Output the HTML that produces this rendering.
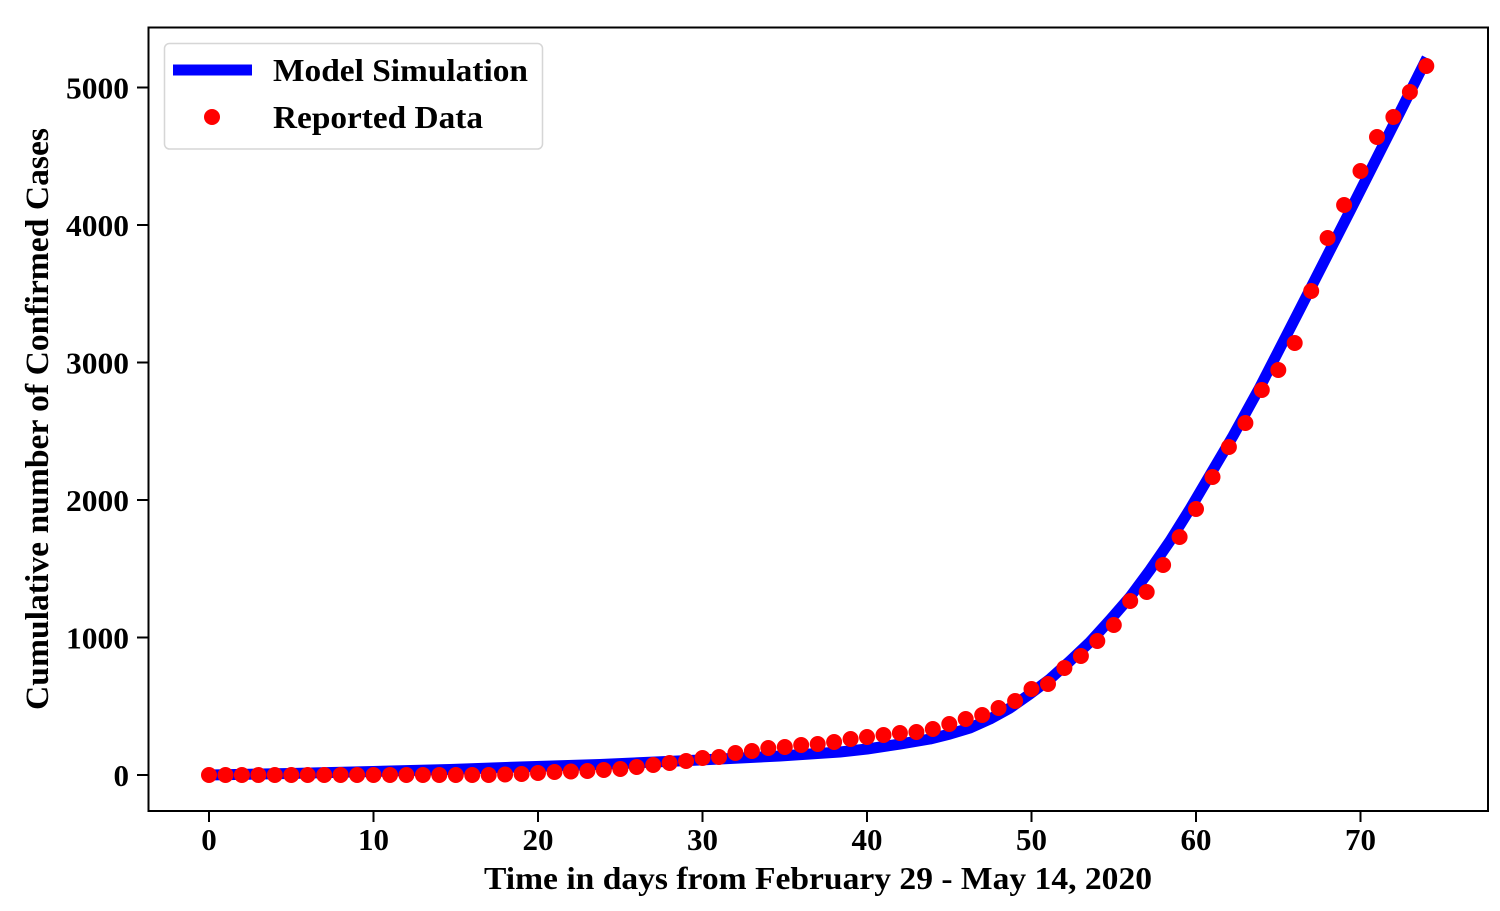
<!DOCTYPE html>
<html>
<head>
<meta charset="utf-8">
<style>
  html, body { margin:0; padding:0; background:#ffffff; }
  svg { display:block; }
  text { font-family: "Liberation Serif", "Times New Roman", serif; fill:#000; }
</style>
</head>
<body>
<svg width="1500" height="911" viewBox="0 0 1500 911" xmlns="http://www.w3.org/2000/svg">
  <rect x="0" y="0" width="1500" height="911" fill="#ffffff"/>

  <polyline fill="none" stroke="#0000ff" stroke-width="11" stroke-linejoin="round"
    points="209,775 290,773.5 373,771.5 450,769.5 520,767 600,764.5 700,760 780,756 840,752 867,749 900,744 930,739 950,734 970,728 990,719 1010,708 1030,694 1050,679 1070,661 1090,642 1110,620 1130,597 1150,570 1170,541 1190,509 1210,475 1233,436 1260,387 1300,309 1350,211 1400,112 1427,58"/>

  <g fill="#ff0000">
    <circle cx="209.0" cy="775" r="8"/>
    <circle cx="225.5" cy="775" r="8"/>
    <circle cx="241.9" cy="775" r="8"/>
    <circle cx="258.4" cy="775" r="8"/>
    <circle cx="274.8" cy="775" r="8"/>
    <circle cx="291.3" cy="775" r="8"/>
    <circle cx="307.7" cy="775" r="8"/>
    <circle cx="324.2" cy="775" r="8"/>
    <circle cx="340.6" cy="775" r="8"/>
    <circle cx="357.1" cy="775" r="8"/>
    <circle cx="373.5" cy="775" r="8"/>
    <circle cx="390.0" cy="775" r="8"/>
    <circle cx="406.4" cy="775" r="8"/>
    <circle cx="422.9" cy="775" r="8"/>
    <circle cx="439.3" cy="775" r="8"/>
    <circle cx="455.8" cy="775" r="8"/>
    <circle cx="472.2" cy="775" r="8"/>
    <circle cx="488.7" cy="775" r="8"/>
    <circle cx="505.1" cy="774.5" r="8"/>
    <circle cx="521.6" cy="774" r="8"/>
    <circle cx="538.0" cy="773" r="8"/>
    <circle cx="554.5" cy="772" r="8"/>
    <circle cx="570.9" cy="771.5" r="8"/>
    <circle cx="587.4" cy="771" r="8"/>
    <circle cx="603.8" cy="770" r="8"/>
    <circle cx="620.3" cy="769" r="8"/>
    <circle cx="636.7" cy="767" r="8"/>
    <circle cx="653.2" cy="765" r="8"/>
    <circle cx="669.6" cy="763" r="8"/>
    <circle cx="686.1" cy="761" r="8"/>
    <circle cx="702.5" cy="758" r="8"/>
    <circle cx="719.0" cy="757" r="8"/>
    <circle cx="735.4" cy="753" r="8"/>
    <circle cx="751.9" cy="751" r="8"/>
    <circle cx="768.3" cy="748" r="8"/>
    <circle cx="784.8" cy="747" r="8"/>
    <circle cx="801.2" cy="745" r="8"/>
    <circle cx="817.7" cy="744" r="8"/>
    <circle cx="834.1" cy="742" r="8"/>
    <circle cx="850.6" cy="739" r="8"/>
    <circle cx="867.0" cy="737" r="8"/>
    <circle cx="883.5" cy="735" r="8"/>
    <circle cx="899.9" cy="733" r="8"/>
    <circle cx="916.4" cy="732" r="8"/>
    <circle cx="932.8" cy="729" r="8"/>
    <circle cx="949.3" cy="724" r="8"/>
    <circle cx="965.7" cy="719" r="8"/>
    <circle cx="982.2" cy="715" r="8"/>
    <circle cx="998.6" cy="708" r="8"/>
    <circle cx="1015.1" cy="701" r="8"/>
    <circle cx="1031.5" cy="689" r="8"/>
    <circle cx="1048.0" cy="684" r="8"/>
    <circle cx="1064.4" cy="668" r="8"/>
    <circle cx="1080.9" cy="656" r="8"/>
    <circle cx="1097.3" cy="641" r="8"/>
    <circle cx="1113.8" cy="625" r="8"/>
    <circle cx="1130.2" cy="601" r="8"/>
    <circle cx="1146.7" cy="592" r="8"/>
    <circle cx="1163.1" cy="565" r="8"/>
    <circle cx="1179.6" cy="537" r="8"/>
    <circle cx="1196.0" cy="509" r="8"/>
    <circle cx="1212.5" cy="477" r="8"/>
    <circle cx="1228.9" cy="447" r="8"/>
    <circle cx="1245.4" cy="423" r="8"/>
    <circle cx="1261.8" cy="390" r="8"/>
    <circle cx="1278.3" cy="370" r="8"/>
    <circle cx="1294.7" cy="343" r="8"/>
    <circle cx="1311.2" cy="291" r="8"/>
    <circle cx="1327.6" cy="238" r="8"/>
    <circle cx="1344.1" cy="205" r="8"/>
    <circle cx="1360.5" cy="171" r="8"/>
    <circle cx="1377.0" cy="137" r="8"/>
    <circle cx="1393.4" cy="117" r="8"/>
    <circle cx="1409.9" cy="92" r="8"/>
    <circle cx="1426.3" cy="66" r="8"/>
  </g>

  <rect x="148.5" y="27.5" width="1339.5" height="783.5" fill="none" stroke="#000" stroke-width="2"/>

  <g stroke="#000" stroke-width="2">
    <line x1="137" y1="775" x2="148" y2="775"/>
    <line x1="137" y1="637.5" x2="148" y2="637.5"/>
    <line x1="137" y1="500" x2="148" y2="500"/>
    <line x1="137" y1="362.5" x2="148" y2="362.5"/>
    <line x1="137" y1="225" x2="148" y2="225"/>
    <line x1="137" y1="87.5" x2="148" y2="87.5"/>
  </g>
  <g font-size="31" font-weight="bold" text-anchor="end">
    <text x="129" y="786">0</text>
    <text x="129" y="648.5" textLength="63" lengthAdjust="spacingAndGlyphs">1000</text>
    <text x="129" y="511" textLength="63" lengthAdjust="spacingAndGlyphs">2000</text>
    <text x="129" y="373.5" textLength="63" lengthAdjust="spacingAndGlyphs">3000</text>
    <text x="129" y="236" textLength="63" lengthAdjust="spacingAndGlyphs">4000</text>
    <text x="129" y="98.5" textLength="63" lengthAdjust="spacingAndGlyphs">5000</text>
  </g>

  <g stroke="#000" stroke-width="2">
    <line x1="209" y1="811" x2="209" y2="822"/>
    <line x1="373.5" y1="811" x2="373.5" y2="822"/>
    <line x1="538" y1="811" x2="538" y2="822"/>
    <line x1="702.5" y1="811" x2="702.5" y2="822"/>
    <line x1="867" y1="811" x2="867" y2="822"/>
    <line x1="1031.5" y1="811" x2="1031.5" y2="822"/>
    <line x1="1196" y1="811" x2="1196" y2="822"/>
    <line x1="1360.5" y1="811" x2="1360.5" y2="822"/>
  </g>
  <g font-size="31" font-weight="bold" text-anchor="middle">
    <text x="209" y="850">0</text>
    <text x="373.5" y="850">10</text>
    <text x="538" y="850">20</text>
    <text x="702.5" y="850">30</text>
    <text x="867" y="850">40</text>
    <text x="1031.5" y="850">50</text>
    <text x="1196" y="850">60</text>
    <text x="1360.5" y="850">70</text>
  </g>

  <text x="484" y="889" font-size="32" font-weight="bold" textLength="668" lengthAdjust="spacingAndGlyphs">Time in days from February 29 - May 14, 2020</text>
  <text transform="translate(48,419) rotate(-90)" text-anchor="middle" font-size="33" font-weight="bold" textLength="582" lengthAdjust="spacingAndGlyphs">Cumulative number of Confirmed Cases</text>

  <rect x="164.5" y="43.5" width="378" height="105.5" rx="5" ry="5" fill="#ffffff" stroke="#d6d6d6" stroke-width="1.5"/>
  <line x1="173" y1="70" x2="252" y2="70" stroke="#0000ff" stroke-width="11"/>
  <circle cx="212" cy="117" r="8" fill="#ff0000"/>
  <text x="273" y="81" font-size="32" font-weight="bold" textLength="255" lengthAdjust="spacingAndGlyphs">Model Simulation</text>
  <text x="273" y="128" font-size="32" font-weight="bold" textLength="210" lengthAdjust="spacingAndGlyphs">Reported Data</text>
</svg>
</body>
</html>
